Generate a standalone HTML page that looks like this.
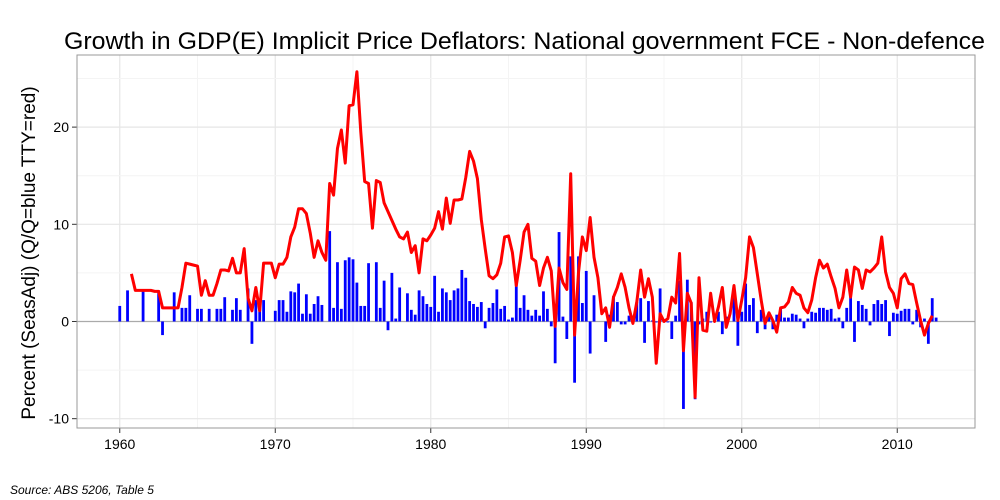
<!DOCTYPE html>
<html><head><meta charset="utf-8"><style>
body{margin:0;background:#fff;width:1000px;height:500px;overflow:hidden}
svg{display:block;font-family:"Liberation Sans",sans-serif}
</style></head><body>
<svg id="chart" width="1000" height="500">
<g id="grid"></g><g id="bars"></g><g id="lines"></g><g id="axes"></g>
<text x="64" y="49" font-size="24" textLength="921" lengthAdjust="spacingAndGlyphs" fill="#000">Growth in GDP(E) Implicit Price Deflators: National government FCE - Non-defence</text>
<text transform="translate(35,253) rotate(-90)" font-size="19" text-anchor="middle" fill="#000">Percent (SeasAdj) (Q/Q=blue TTY=red)</text>
<text x="10" y="494" font-size="12" font-style="italic" fill="#000">Source: ABS 5206, Table 5</text>
</svg>
<script>
const xTicks=[1960,1970,1980,1990,2000,2010];
const yTicks=[-10,0,10,20];
const blueStart=1960.0;
const blueValues=[1.6,0,3.2,0,0,0,3.2,0,0,0,3.2,-1.4,0,0,3.0,0,1.4,1.4,2.7,0,1.3,1.3,0,1.3,0,1.3,1.3,2.5,0,1.2,2.4,1.2,0,3.4,-2.3,2.2,2.2,2.2,0,0,1.1,2.2,2.2,1.0,3.1,3.0,3.9,0.8,2.8,0.8,1.8,2.6,1.7,0,9.3,1.4,6.1,1.3,6.3,6.6,6.4,4.0,1.6,1.6,6.0,0,6.1,1.4,4.2,-0.9,5.0,0.3,3.5,0,2.9,1.2,0.7,3.2,2.6,1.8,1.5,4.7,1.0,3.4,3.0,2.2,3.2,3.4,5.3,4.5,2.1,1.8,1.5,2.0,-0.7,1.4,1.9,3.3,1.3,1.6,0.2,0.4,4.1,1.4,2.7,1.2,0.6,1.2,0.6,3.1,1.3,-0.5,-4.3,9.2,0.5,-1.8,6.7,-6.3,6.7,1.9,5.2,-3.3,2.7,0,0,-2.1,0.7,2.6,2.0,-0.3,-0.3,0.6,0.6,2.0,2.4,-2.2,2.1,0.1,-0.1,3.4,-0.1,-0.1,-1.8,0.6,4.2,-9.0,4.3,2.0,-8.0,-0.3,0.3,1.0,-0.1,0.6,1.0,-1.3,0.5,0,2.5,-2.5,1.0,3.9,1.7,2.4,-1.2,1.2,-0.8,0.7,-0.8,0.7,1.4,0.4,0.4,0.8,0.7,0.3,-0.7,0.3,1.0,0.9,1.4,1.4,1.2,1.3,0.3,0.4,-0.7,1.4,3.1,-2.1,2.1,1.7,1.3,-0.4,1.8,2.2,1.8,2.2,-1.5,0.9,0.8,1.1,1.3,1.3,-0.3,1.2,-0.6,0.3,-2.3,2.4,0.4];
const redStart=1960.75;
const redValues=[4.9,3.2,3.2,3.2,3.2,3.2,3.1,3.1,1.4,1.4,1.4,1.4,1.4,3.5,6.0,5.9,5.8,5.7,2.7,4.2,2.7,2.7,3.9,5.3,5.3,5.2,6.5,5.0,5.0,7.5,2.4,1.1,3.5,1.1,6.0,6.0,6.0,4.5,5.9,5.9,6.6,8.7,9.7,11.6,11.6,11.1,9.1,6.6,8.3,7.1,6.3,14.2,13.0,17.8,19.7,16.3,22.2,22.3,25.7,19.5,14.4,14.2,9.6,14.5,14.3,12.2,11.3,10.4,9.5,8.7,8.5,9.2,7.1,7.8,5.0,8.5,8.3,8.9,9.6,11.3,9.5,12.7,10.1,12.5,12.5,12.6,14.8,17.5,16.5,14.7,10.5,7.5,4.7,4.4,4.8,6.0,8.7,8.8,7.1,3.7,6.3,9.2,10.0,6.5,6.2,3.7,5.5,6.6,5.2,-0.5,5.5,4.0,3.3,15.2,-1.4,5.0,8.7,7.3,10.7,6.6,4.5,0.8,1.4,-0.6,2.5,3.5,4.9,3.5,1.4,-0.2,2.0,5.3,2.5,4.4,2.5,-4.3,0.8,0.0,0.3,2.5,1.9,7.0,-3.0,2.9,1.9,-7.8,4.5,-0.9,-1.0,2.9,0.0,1.5,3.5,-0.6,0.8,3.7,0.1,2.2,4.5,8.7,7.6,4.9,2.2,-0.2,0.9,0.1,-1.1,1.4,1.5,2.0,3.5,2.9,2.7,1.4,0.9,2.2,4.5,6.3,5.5,5.9,4.6,3.4,1.4,2.5,5.3,2.5,5.6,5.3,3.4,5.3,5.1,5.5,6.0,8.7,5.1,3.5,2.9,1.4,4.4,4.9,3.9,3.8,1.9,0.1,-1.4,-0.2,0.6];

const NS='http://www.w3.org/2000/svg';
const L=77,R=975,T=55,B=428;
const xMin=1957.25,xMax=2015.0,yMin=-10.96,yMax=27.42;
const sx=v=>L+(v-xMin)/(xMax-xMin)*(R-L);
const sy=v=>B-(v-yMin)/(yMax-yMin)*(B-T);
function mk(tag,a,parent){const e=document.createElementNS(NS,tag);for(const k in a)e.setAttribute(k,a[k]);parent.appendChild(e);return e;}
const grid=document.getElementById('grid'),bars=document.getElementById('bars'),lines=document.getElementById('lines'),axes=document.getElementById('axes');

let r=mk('rect',{x:L,y:T,width:R-L,height:B-T,fill:'#fff'},grid);


for(let i=0;i<xTicks.length;i++){
  const minor=xTicks[i]+5;
  if(sx(minor)<R){let m=mk('line',{x1:sx(minor),x2:sx(minor),y1:T,y2:B,stroke:'#f4f4f4','stroke-width':1},grid);
  
  }
  const x=sx(xTicks[i]);
  let g=mk('line',{x1:x,x2:x,y1:T,y2:B,stroke:'#e6e6e6','stroke-width':1.2},grid);
  
  
  let tk=mk('line',{x1:x,x2:x,y1:B,y2:B+5,stroke:'#333','stroke-width':1},axes);
  
  
  let t=mk('text',{x:x,y:B+21,'font-size':14,'text-anchor':'middle',fill:'#000'},axes);
  t.textContent=xTicks[i];
  
  
}
for(let i=0;i<yTicks.length;i++){
  const minor=yTicks[i]+5;
  if(sy(minor)>T){let m=mk('line',{x1:L,x2:R,y1:sy(minor),y2:sy(minor),stroke:'#f4f4f4','stroke-width':1},grid);
  
  }
  const y=sy(yTicks[i]);
  let g=mk('line',{x1:L,x2:R,y1:y,y2:y,stroke:yTicks[i]===0?'#aaaaaa':'#e6e6e6','stroke-width':1.2},grid);
  
  
  let tk=mk('line',{x1:L-5,x2:L,y1:y,y2:y,stroke:'#333','stroke-width':1},axes);
  
  
  let t=mk('text',{x:L-8,y:y+5,'font-size':14,'text-anchor':'end',fill:'#000'},axes);
  t.textContent=yTicks[i];
  
  
}
let bd=mk('rect',{x:L,y:T,width:R-L,height:B-T,fill:'none',stroke:'#999','stroke-width':1},axes);



const bw=(sx(1)-sx(0))/4*0.72;
for(let i=0;i<blueValues.length;i++){
  const v=blueValues[i];if(v===0)continue;
  const x=sx(blueStart+i/4);
  let b=mk('rect',{x:x-bw/2,y:Math.min(sy(v),sy(0)),width:bw,height:Math.abs(sy(v)-sy(0)),fill:'#0000ff'},bars);
  
  
}
let d='';
for(let i=0;i<redValues.length;i++){d+=(i?'L':'M')+sx(redStart+i/4).toFixed(2)+' '+sy(redValues[i]).toFixed(2);}
let p=mk('path',{d:d,fill:'none',stroke:'#ff0000','stroke-width':3,'stroke-linejoin':'round'},lines);


</script>
</body></html>
